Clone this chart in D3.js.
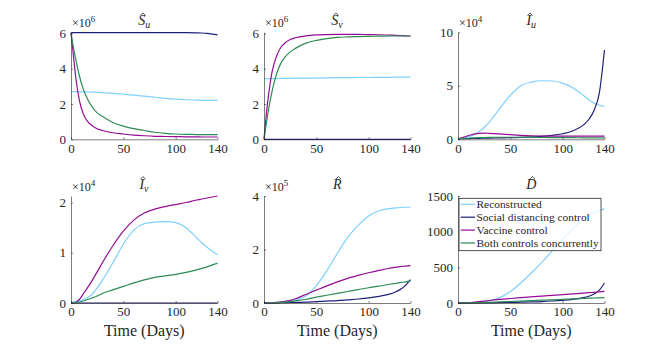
<!DOCTYPE html>
<html>
<head>
<meta charset="utf-8">
<script src="https://cdn.jsdelivr.net/npm/d3@7"></script>
</head>
<body style="margin:0">
<svg id="chart" width="666" height="351"></svg>
<script>
// time grid (days) shared by every series
var days = [0, 2, 5, 8, 12, 16, 20, 25, 30, 40, 50, 60, 70, 80, 90, 100, 110, 120, 125, 130, 135, 140];

var seriesNames = ["Reconstructed", "Social distancing control", "Vaccine control", "Both controls concurrently"];
var seriesColors = ["#80cfff", "#20207a", "#940d94", "#2e8b57"];
var xTicks = [0, 50, 100, 140];

// S_u  (x 10^6)
var suRec  = [2.70, 2.70, 2.70, 2.69, 2.69, 2.68, 2.67, 2.66, 2.64, 2.60, 2.55, 2.50, 2.44, 2.38, 2.32, 2.28, 2.24, 2.22, 2.21, 2.20, 2.20, 2.20];
var suSoc  = [6.04, 6.04, 6.04, 6.04, 6.04, 6.04, 6.04, 6.04, 6.04, 6.04, 6.04, 6.04, 6.04, 6.04, 6.04, 6.04, 6.04, 6.03, 6.02, 6.00, 5.96, 5.91];
var suVac  = [6.04, 4.90, 3.30, 2.20, 1.40, 1.00, 0.78, 0.60, 0.50, 0.37, 0.30, 0.24, 0.20, 0.17, 0.16, 0.15, 0.14, 0.14, 0.13, 0.13, 0.13, 0.13];
var suBoth = [6.04, 5.30, 4.40, 3.60, 2.80, 2.25, 1.85, 1.50, 1.30, 0.95, 0.75, 0.60, 0.50, 0.40, 0.34, 0.30, 0.28, 0.27, 0.26, 0.26, 0.26, 0.26];

// S_v  (x 10^6)
var svRec  = [3.43, 3.43, 3.44, 3.44, 3.44, 3.45, 3.45, 3.45, 3.46, 3.47, 3.47, 3.48, 3.49, 3.49, 3.50, 3.50, 3.51, 3.51, 3.52, 3.52, 3.52, 3.52];
var svSoc  = [0, 0, 0, 0, 0, 0, 0, 0, 0, 0, 0, 0, 0, 0, 0, 0, 0, 0, 0, 0, 0, 0];
var svVac  = [0, 1.30, 2.80, 3.90, 4.70, 5.20, 5.45, 5.65, 5.75, 5.86, 5.91, 5.93, 5.94, 5.94, 5.94, 5.93, 5.92, 5.90, 5.89, 5.88, 5.86, 5.85];
var svBoth = [0, 0.80, 1.90, 2.80, 3.70, 4.30, 4.65, 4.95, 5.15, 5.45, 5.60, 5.70, 5.77, 5.80, 5.82, 5.83, 5.84, 5.85, 5.85, 5.85, 5.85, 5.85];

// I_u  (x 10^4)
var iuRec  = [0.05, 0.07, 0.12, 0.20, 0.30, 0.45, 0.70, 1.10, 1.60, 2.90, 4.10, 5.00, 5.35, 5.47, 5.45, 5.25, 4.80, 4.10, 3.70, 3.40, 3.20, 3.05];
var iuSoc  = [0.05, 0.05, 0.06, 0.06, 0.07, 0.08, 0.09, 0.10, 0.11, 0.13, 0.15, 0.18, 0.22, 0.27, 0.36, 0.52, 0.80, 1.35, 1.85, 2.70, 4.30, 8.35];
var iuVac  = [0.05, 0.10, 0.18, 0.28, 0.40, 0.50, 0.56, 0.58, 0.56, 0.50, 0.43, 0.37, 0.33, 0.31, 0.30, 0.30, 0.30, 0.30, 0.30, 0.30, 0.30, 0.30];
var iuBoth = [0.05, 0.06, 0.08, 0.10, 0.12, 0.14, 0.15, 0.17, 0.18, 0.19, 0.19, 0.19, 0.18, 0.17, 0.16, 0.15, 0.15, 0.14, 0.14, 0.14, 0.14, 0.14];

// I_v  (x 10^4)
var ivRec  = [0.02, 0.02, 0.03, 0.04, 0.07, 0.11, 0.17, 0.30, 0.45, 0.80, 1.17, 1.45, 1.58, 1.61, 1.62, 1.60, 1.50, 1.30, 1.20, 1.11, 1.03, 0.96];
var ivSoc  = [0, 0, 0, 0, 0, 0, 0, 0, 0, 0, 0, 0, 0, 0, 0, 0, 0, 0, 0, 0, 0, 0];
var ivVac  = [0, 0, 0.02, 0.07, 0.19, 0.31, 0.44, 0.62, 0.80, 1.14, 1.43, 1.65, 1.79, 1.87, 1.92, 1.96, 2.00, 2.05, 2.07, 2.09, 2.11, 2.13];
var ivBoth = [0, 0, 0.01, 0.02, 0.04, 0.07, 0.10, 0.14, 0.19, 0.26, 0.33, 0.40, 0.46, 0.51, 0.54, 0.57, 0.61, 0.66, 0.69, 0.72, 0.76, 0.79];

// R  (x 10^5)
var rRec  = [0, 0, 0.01, 0.01, 0.02, 0.03, 0.05, 0.08, 0.12, 0.26, 0.65, 1.20, 1.85, 2.45, 2.90, 3.25, 3.45, 3.53, 3.55, 3.57, 3.58, 3.58];
var rSoc  = [0, 0, 0, 0, 0, 0.01, 0.01, 0.02, 0.02, 0.03, 0.05, 0.07, 0.09, 0.12, 0.15, 0.19, 0.25, 0.33, 0.40, 0.50, 0.65, 0.87];
var rVac  = [0, 0, 0.01, 0.01, 0.02, 0.04, 0.06, 0.10, 0.16, 0.32, 0.48, 0.64, 0.79, 0.92, 1.03, 1.13, 1.22, 1.30, 1.33, 1.36, 1.38, 1.40];
var rBoth = [0, 0, 0, 0.01, 0.01, 0.02, 0.03, 0.05, 0.08, 0.14, 0.22, 0.29, 0.36, 0.43, 0.50, 0.57, 0.63, 0.70, 0.73, 0.76, 0.79, 0.82];

// D
var dRec  = [0, 0, 1, 2, 4, 7, 11, 18, 28, 75, 160, 280, 420, 570, 730, 890, 1050, 1170, 1220, 1265, 1295, 1320];
var dSoc  = [0, 0, 0, 1, 1, 2, 2, 3, 3, 5, 8, 11, 15, 20, 28, 38, 52, 75, 95, 125, 180, 280];
var dVac  = [0, 1, 2, 4, 7, 12, 18, 26, 35, 50, 63, 75, 87, 97, 108, 118, 128, 139, 145, 150, 156, 162];
var dBoth = [0, 0, 1, 1, 2, 3, 5, 7, 10, 15, 21, 27, 33, 39, 45, 51, 57, 63, 67, 70, 73, 76];

var panels = [
  {sym: "S", sub: "u", exp: "6", yMax: 6.06, yTicks: [0, 2, 4, 6], data: [suRec, suSoc, suVac, suBoth]},
  {sym: "S", sub: "v", exp: "6", yMax: 6.06, yTicks: [0, 2, 4, 6], data: [svRec, svSoc, svVac, svBoth]},
  {sym: "I", sub: "u", exp: "4", yMax: 10, yTicks: [0, 5, 10], data: [iuRec, iuSoc, iuVac, iuBoth]},
  {sym: "I", sub: "v", exp: "4", yMax: 2.13, yTicks: [0, 1, 2], data: [ivRec, ivSoc, ivVac, ivBoth]},
  {sym: "R", sub: "", exp: "5", yMax: 4, yTicks: [0, 2, 4], data: [rRec, rSoc, rVac, rBoth]},
  {sym: "D", sub: "", exp: null, yMax: 1500, yTicks: [0, 500, 1000, 1500], data: [dRec, dSoc, dVac, dBoth]}
];

var colLeft = [71, 264, 458], axW = 146.5;
var rowTop = [32.3, 196], axH = 107;
var FONT = "Liberation Serif";
var INK = "#262626";
// rough glyph widths (14px italic letter, 10px subscript) for centring the titles
var symWidth = {S: 7, I: 4.7, R: 8.6, D: 10.1};

var svg = d3.select("#chart");

panels.forEach(function(p, i) {
  var left = colLeft[i % 3], top = rowTop[Math.floor(i / 3)];

  var x = d3.scaleLinear().domain([0, 140]).range([left, left + axW]);
  var y = d3.scaleLinear().domain([0, p.yMax]).range([top + axH, top]);

  var line = d3.line()
    .x(function(d, k) { return x(days[k]); })
    .y(function(d) { return y(d); })
    .curve(d3.curveMonotoneX);

  p.data.forEach(function(vals, s) {
    svg.append("path")
      .datum(vals)
      .attr("d", line)
      .attr("fill", "none")
      .attr("stroke", seriesColors[s])
      .attr("stroke-width", 1.2);
  });

  var xa = svg.append("g")
    .attr("transform", "translate(0," + (top + axH) + ")")
    .call(d3.axisBottom(x).tickValues(xTicks).tickFormat(d3.format("d"))
      .tickSize(-2).tickSizeOuter(0).tickPadding(4));
  var ya = svg.append("g")
    .attr("transform", "translate(" + left + ",0)")
    .call(d3.axisLeft(y).tickValues(p.yTicks).tickFormat(d3.format("d"))
      .tickSize(-2).tickSizeOuter(0).tickPadding(5));
  [xa, ya].forEach(function(a) {
    a.attr("font-family", FONT).attr("font-size", 13);
    a.selectAll("path, line").attr("stroke", INK).attr("stroke-width", 0.6);
    a.selectAll("text").attr("fill", INK).attr("font-family", FONT).attr("font-size", 13);
  });

  // exponent label
  if (p.exp) {
    var e = svg.append("text").attr("x", left + 1).attr("y", top - 5)
      .attr("font-family", FONT).attr("font-size", 12).attr("fill", INK);
    e.append("tspan").text("\u00d710");
    e.append("tspan").attr("dy", -5).attr("font-size", 9).text(p.exp);
  }

  // title: italic letter + subscript, hat accent drawn as a small stroke
  var symW = symWidth[p.sym];
  var subW = p.sub ? 5 : 0;
  var tx = left + axW / 2 - (symW + subW) / 2;
  var t = svg.append("text").attr("x", tx).attr("y", top - 7).attr("font-family", FONT)
    .attr("font-size", 14).attr("font-style", "italic").attr("fill", INK);
  t.append("tspan").text(p.sym);
  if (p.sub) t.append("tspan").attr("dy", 3).attr("font-size", 10).text(p.sub);
  var hx = tx + symW / 2 + 1.2;
  svg.append("path")
    .attr("d", "M" + (hx - 2.6) + "," + (top - 16.8) + "L" + hx + "," + (top - 19.4) + "L" + (hx + 2.6) + "," + (top - 16.8))
    .attr("fill", "none").attr("stroke", INK).attr("stroke-width", 0.8);

  if (i >= 3) {
    svg.append("text")
      .attr("x", left + axW / 2).attr("y", top + axH + 33)
      .attr("text-anchor", "middle").attr("font-family", FONT)
      .attr("font-size", 16).attr("fill", INK)
      .text("Time (Days)");
  }
});

// legend inside the last panel
var lgX = 459, lgY = 198.3;
svg.append("rect")
  .attr("x", lgX).attr("y", lgY)
  .attr("width", 142).attr("height", 52.4)
  .attr("fill", "white").attr("fill-opacity", 0.75)
  .attr("stroke", INK).attr("stroke-width", 0.8);
seriesNames.forEach(function(name, s) {
  var yy = lgY + 6 + s * 12.9;
  svg.append("line")
    .attr("x1", lgX + 1.7).attr("x2", lgX + 16).attr("y1", yy).attr("y2", yy)
    .attr("stroke", seriesColors[s]).attr("stroke-width", 1.2);
  svg.append("text")
    .attr("x", lgX + 17.5).attr("y", yy + 4)
    .attr("font-family", FONT).attr("font-size", 11.4).attr("fill", INK)
    .text(name);
});
</script>
</body>
</html>
